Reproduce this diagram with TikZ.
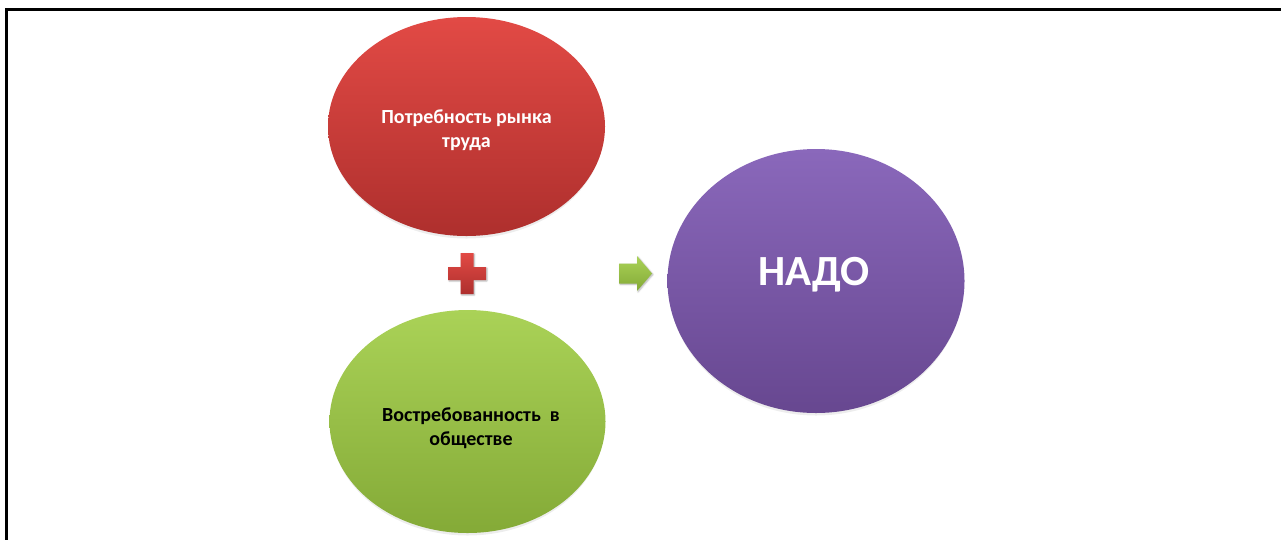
\documentclass[tikz,border=0pt]{standalone}
\usepackage{fontspec}
\setmainfont{Carlito}
\usetikzlibrary{shapes.geometric,shadows.blur}
\definecolor{redtop}{HTML}{E24A45}
\definecolor{redbot}{HTML}{AE2F2D}
\definecolor{greentop}{HTML}{AAD257}
\definecolor{greenbot}{HTML}{84AA37}
\definecolor{purtop}{HTML}{8A68BB}
\definecolor{purbot}{HTML}{674790}
\tikzset{
  bubble/.style={ellipse, inner sep=0pt},
  bubbleshadow/.style={fill=black, opacity=0.07},
  bubbletext/.style={align=center, inner sep=0pt, font=\bfseries\fontsize{20}{24}\selectfont},
  frameline/.style={line width=3pt, line cap=rect},
  smallshadow/.style={blur shadow={shadow xshift=1pt, shadow yshift=-1pt, shadow blur radius=1.5pt, shadow opacity=30}}
}
\begin{document}
\begin{tikzpicture}[x=1pt,y=-1pt]
\useasboundingbox (0,0) rectangle (1281,539);
\coordinate (fb) at (6,545);
\coordinate (fc) at (6,9);
\coordinate (fr) at (1285,9);
\draw[frameline] (fb) -- (fc) -- (fr);
% shadows
\node[bubble, bubbleshadow, minimum width=275pt, minimum height=219pt] (needsh) at (466.5,129) {};
\node[bubble, bubbleshadow, minimum width=274pt, minimum height=223pt] (demandsh) at (467.5,424) {};
\node[bubble, bubbleshadow, minimum width=295pt, minimum height=264pt] (mustsh) at (816,283.5) {};
% ellipses
\shade[top color=redtop, bottom color=redbot] (466.5,126.5) ellipse [x radius=138.5, y radius=109.5];
\shade[top color=greentop, bottom color=greenbot] (467.5,421.5) ellipse [x radius=138, y radius=111.5];
\shade[top color=purtop, bottom color=purbot] (816,281) ellipse [x radius=148.5, y radius=132];
\node[bubble, minimum width=277pt, minimum height=219pt] (need) at (466.5,126.5) {};
\node[bubble, minimum width=276pt, minimum height=223pt] (demand) at (467.5,421.5) {};
\node[bubble, minimum width=297pt, minimum height=264pt] (must) at (816,281) {};
% texts
\node[bubbletext, text=white] (needtext) at (466.5,130) {Потребность рынка\\труда};
\node[bubbletext, text=black] (demandtext) at (471,428) {Востребованность\ \ в\\обществе};
\node[bubbletext, text=white, font=\bfseries\fontsize{43}{46}\selectfont] (musttext) at (814,275) {НАДО};
% plus
\coordinate (plus) at (467,273.5);
\shade[top color=redtop, bottom color=redbot, smallshadow]
  ([shift={(-6.5,-20.5)}]plus) -- ([shift={(6.5,-20.5)}]plus) -- ([shift={(6.5,-6.5)}]plus) -- ([shift={(19,-6.5)}]plus)
  -- ([shift={(19,6.5)}]plus) -- ([shift={(6.5,6.5)}]plus) -- ([shift={(6.5,20.5)}]plus) -- ([shift={(-6.5,20.5)}]plus)
  -- ([shift={(-6.5,6.5)}]plus) -- ([shift={(-19,6.5)}]plus) -- ([shift={(-19,-6.5)}]plus) -- ([shift={(-6.5,-6.5)}]plus) -- cycle;
% arrow
\coordinate (arr) at (619,273.5);
\shade[top color=greentop, bottom color=greenbot, smallshadow]
  ([shift={(0,-10)}]arr) -- ([shift={(18,-10)}]arr) -- ([shift={(18,-17.5)}]arr) -- ([shift={(33,0)}]arr)
  -- ([shift={(18,17.5)}]arr) -- ([shift={(18,10)}]arr) -- ([shift={(0,10)}]arr) -- cycle;
\end{tikzpicture}
\end{document}
